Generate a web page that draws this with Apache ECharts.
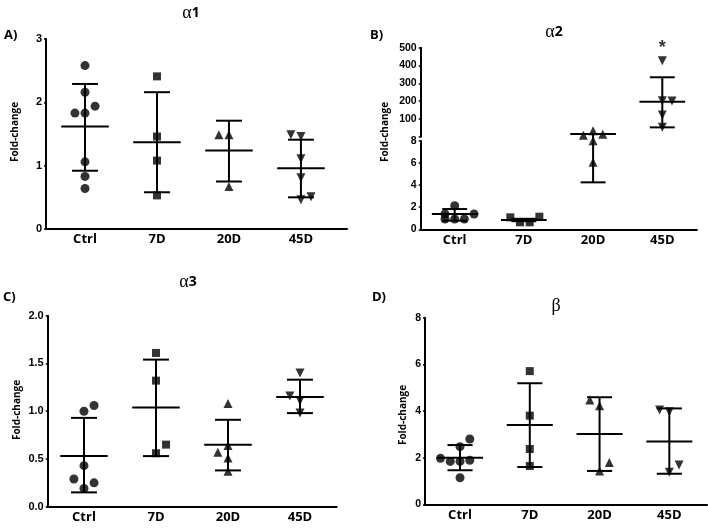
<!DOCTYPE html>
<html>
<head>
<meta charset="utf-8">
<script src="https://cdn.jsdelivr.net/npm/echarts@6/dist/echarts.min.js"></script>
<style>
  html, body { margin: 0; padding: 0; background: #fff; }
  #main { width: 708px; height: 529px; }
</style>
</head>
<body>
<div id="main"></div>
<script>
const categories = ['Ctrl', '7D', '20D', '45D']

// alpha1
const a1Points = [[2.58, 2.16, 1.83, 1.83, 1.94, 1.06, 0.83, 0.64], [2.41, 1.46, 1.08, 0.53], [1.49, 1.49, 0.67], [1.49, 1.46, 1.11, 0.81, 0.46, 0.51]]
const a1Slots = [[0, 0, -1, 0, 1, 0, 0, 0], [0, 0, 0, 0], [-1, 0, 0], [-1, 0, 0, 0, 0, 1]]
const a1Mean = [1.62, 1.37, 1.24, 0.96]
const a1High = [2.29, 2.16, 1.71, 1.41]
const a1Low = [0.92, 0.58, 0.75, 0.5]
const a1Ticks = [0, 1, 2, 3]

// alpha2 (broken axis)
const a2Points = [[2.13, 1.38, 1.38, 0.93, 0.93, 0.93], [1.08, 0.63, 0.63, 1.14], [8.49, 8.9, 8.58, 8.0, 6.05], [427, 203, 201, 122, 53]]
const a2Slots = [[0, -1, 2, -1, 0, 1], [-1.4, -0.4, 0.6, 1.6], [-1, 0, 1, 0, 0], [0, 0, 1, 0, 0]]
const a2Mean = [1.38, 0.84, 8.6, 197]
const a2High = [1.83, 0.95, 8.6, 334]
const a2Low = [0.78, 0.73, 4.24, 53]
const a2Marks = ['', '', '', '*']
const a2TicksLow = [0, 2, 4, 6, 8]
const a2TicksHigh = [100, 200, 300, 400, 500]

// alpha3
const a3Points = [[1.0, 1.06, 0.43, 0.29, 0.25, 0.19], [1.61, 1.32, 0.65, 0.56], [1.08, 0.57, 0.64, 0.51, 0.37], [1.4, 1.16, 1.11, 0.98]]
const a3Slots = [[0, 1, 0, -1, 1, 0], [0, 0, 1, 0], [0, -1, 0, 0, 0], [0, -1, 0, 0]]
const a3Mean = [0.53, 1.04, 0.65, 1.15]
const a3High = [0.93, 1.54, 0.91, 1.33]
const a3Low = [0.15, 0.53, 0.38, 0.98]
const a3Ticks = [0, 0.5, 1, 1.5, 2]

// beta
const bPoints = [[2.8, 2.47, 1.97, 1.84, 1.84, 1.89, 1.14], [5.71, 3.8, 2.37, 1.64], [4.47, 4.23, 1.79, 1.43], [4.04, 3.97, 1.69, 1.37]]
const bSlots = [[1, 0, -2, -1, 0, 1, 0], [0, 0, 0, 0], [-1, 0, 1, 0], [-1, 0, 1, 0]]
const bMean = [2.0, 3.4, 3.01, 2.69]
const bHigh = [2.54, 5.19, 4.59, 4.11]
const bLow = [1.46, 1.6, 1.43, 1.31]
const bTicks = [0, 2, 4, 6, 8]

const A2_SPLIT = 20 // values below go to the lower segment of the broken axis

const STEP = 0.14
const MEAN_HALF = 0.33
const CAP_HALF = 0.18
const symbols = ['circle', 'rect', 'triangle', 'triangle']
const symbolRotate = [0, 0, 0, 180]
const symbolSize = [9, 8, 9, 9]
const tickFont = { color: '#000', fontFamily: 'Liberation Sans', fontWeight: 'bold' }
const catFont = { color: '#000', fontFamily: 'Open Sans', fontWeight: 'bold', fontSize: 13 }

function scatterSeries(points, slots, xi, yi, keep) {
  return points.map((vals, g) => ({
    type: 'scatter',
    xAxisIndex: xi,
    yAxisIndex: yi,
    symbol: symbols[g],
    symbolRotate: symbolRotate[g],
    symbolSize: symbolSize[g],
    itemStyle: { color: '#000' },
    clip: false,
    z: 4,
    data: vals
      .map((v, i) => [g + 1 + slots[g][i] * STEP, v])
      .filter(d => d[1] >= keep[0] && d[1] < keep[1])
  }))
}

function errorSeries(mean, high, low, xi, yi, keep) {
  const inside = v => v >= keep[0] && v < keep[1]
  return {
    type: 'custom',
    xAxisIndex: xi,
    yAxisIndex: yi,
    clip: false,
    z: 3,
    data: mean.map((m, g) => [g + 1, m, low[g], high[g]]),
    renderItem(params, api) {
      const x = api.value(0)
      const m = api.value(1)
      const lo = api.value(2)
      const hi = api.value(3)
      const seg = (x1, v1, x2, v2) => {
        const a = api.coord([x1, v1])
        const b = api.coord([x2, v2])
        return {
          type: 'line',
          shape: { x1: a[0], y1: a[1], x2: b[0], y2: b[1] },
          style: { stroke: '#000', lineWidth: 2 }
        }
      }
      const children = []
      const top = Math.min(hi, keep[1])
      const bot = Math.max(lo, keep[0])
      if (top > bot) children.push(seg(x, bot, x, top))
      if (inside(lo)) children.push(seg(x - CAP_HALF, lo, x + CAP_HALF, lo))
      if (inside(hi)) children.push(seg(x - CAP_HALF, hi, x + CAP_HALF, hi))
      if (inside(m)) children.push(seg(x - MEAN_HALF, m, x + MEAN_HALF, m))
      return { type: 'group', children }
    }
  }
}

function xAxisFor(gridIndex, min, max, show) {
  return {
    type: 'value',
    gridIndex,
    min,
    max,
    show,
    splitLine: { show: false },
    axisTick: { show: false },
    axisLine: { show: true, onZero: false, lineStyle: { color: '#000', width: 2 } },
    axisLabel: {
      customValues: [1, 2, 3, 4],
      formatter: v => categories[Math.round(v) - 1] || '',
      margin: 4,
      ...catFont
    }
  }
}

function yAxisFor(gridIndex, min, max, ticks, fontSize, fmt, tickValues) {
  return {
    type: 'value',
    gridIndex,
    min,
    max,
    splitLine: { show: false },
    axisLine: { show: true, onZero: false, lineStyle: { color: '#000', width: 2 } },
    axisTick: { show: true, length: 2, customValues: tickValues || ticks, lineStyle: { color: '#000', width: 1.5 } },
    axisLabel: { customValues: ticks, formatter: fmt || (v => String(v)), margin: 4, fontSize, ...tickFont }
  }
}

const grids = [
  { left: 46, top: 39, width: 301, height: 190 },        // alpha1
  { left: 420.7, top: 140.7, width: 276.2, height: 88.6 }, // alpha2 lower
  { left: 420.7, top: 47.7, width: 276.2, height: 89.1 },  // alpha2 upper
  { left: 47.7, top: 315.7, width: 289, height: 191 },    // alpha3
  { left: 425, top: 317.7, width: 282, height: 186.6 }    // beta
]

const xAxes = [
  xAxisFor(0, 0.458, 4.64, true),
  xAxisFor(1, 0.509, 4.5, true),
  xAxisFor(2, 0.509, 4.5, false),
  xAxisFor(3, 0.496, 4.51, true),
  xAxisFor(4, 0.498, 4.54, true)
]

const yAxes = [
  yAxisFor(0, 0, 3, a1Ticks, 11),
  yAxisFor(1, 0, 8, a2TicksLow, 10.5),
  yAxisFor(2, 0, 500, a2TicksHigh, 10.5, null, [0].concat(a2TicksHigh)),
  yAxisFor(3, 0, 2, a3Ticks, 11, v => v.toFixed(1)),
  yAxisFor(4, 0, 8, bTicks, 10.5)
]

const all = [-Infinity, Infinity]
const lowerKeep = [-Infinity, A2_SPLIT]
const upperKeep = [A2_SPLIT, Infinity]

const series = [].concat(
  scatterSeries(a1Points, a1Slots, 0, 0, all),
  [errorSeries(a1Mean, a1High, a1Low, 0, 0, all)],
  scatterSeries(a2Points, a2Slots, 1, 1, lowerKeep),
  [errorSeries(a2Mean, a2High, a2Low, 1, 1, lowerKeep)],
  scatterSeries(a2Points, a2Slots, 2, 2, upperKeep),
  [errorSeries(a2Mean, a2High, a2Low, 2, 2, upperKeep)],
  scatterSeries(a3Points, a3Slots, 3, 3, all),
  [errorSeries(a3Mean, a3High, a3Low, 3, 3, all)],
  scatterSeries(bPoints, bSlots, 4, 4, all),
  [errorSeries(bMean, bHigh, bLow, 4, 4, all)],
  [{
    // significance stars above the highest point of a group
    type: 'scatter',
    xAxisIndex: 2,
    yAxisIndex: 2,
    symbolSize: 1,
    itemStyle: { color: 'transparent' },
    clip: false,
    data: a2Marks
      .map((mk, g) => ({ value: [g + 1, Math.max(...a2Points[g])], mk }))
      .filter(d => d.mk),
    label: {
      show: true,
      position: 'top',
      distance: 3,
      formatter: p => p.data.mk,
      color: '#000',
      fontSize: 18,
      fontWeight: 'bold',
      fontFamily: 'Liberation Sans'
    }
  }]
)

function titleText(x, y, greek, num) {
  return {
    type: 'text',
    x, y,
    style: {
      rich: {
        g: { fontFamily: 'Liberation Serif', fontSize: 18, fill: '#000' },
        n: { fontFamily: 'Open Sans', fontWeight: 'bold', fontSize: 14, fill: '#000' }
      },
      text: '{g|' + greek + '}' + (num ? '{n|' + num + '}' : ''),
      align: 'center',
      verticalAlign: 'middle'
    }
  }
}

function panelLabel(x, y, text) {
  return {
    type: 'text', x, y,
    style: { text, fontFamily: 'Open Sans', fontWeight: 'bold', fontSize: 13, fill: '#000', align: 'left', verticalAlign: 'middle' }
  }
}

function yName(x, y) {
  return {
    type: 'text', x, y, rotation: Math.PI / 2,
    style: { text: 'Fold-change', fontFamily: 'Open Sans', fontWeight: 'bold', fontSize: 10, fill: '#000', align: 'center', verticalAlign: 'middle' }
  }
}

const chart = echarts.init(document.getElementById('main'))
chart.setOption({
  backgroundColor: '#fff',
  animation: false,
  grid: grids,
  xAxis: xAxes,
  yAxis: yAxes,
  series,
  graphic: [
    titleText(191, 13, 'α', '1'),
    titleText(554, 32, 'α', '2'),
    titleText(188, 282, 'α', '3'),
    titleText(556, 306, 'β', ''),
    panelLabel(4, 35, 'A)'),
    panelLabel(370, 35, 'B)'),
    panelLabel(3, 297, 'C)'),
    panelLabel(372, 297, 'D)'),
    yName(15, 132),
    yName(385, 132),
    yName(17, 410),
    yName(403, 415)
  ]
})
</script>
</body>
</html>
